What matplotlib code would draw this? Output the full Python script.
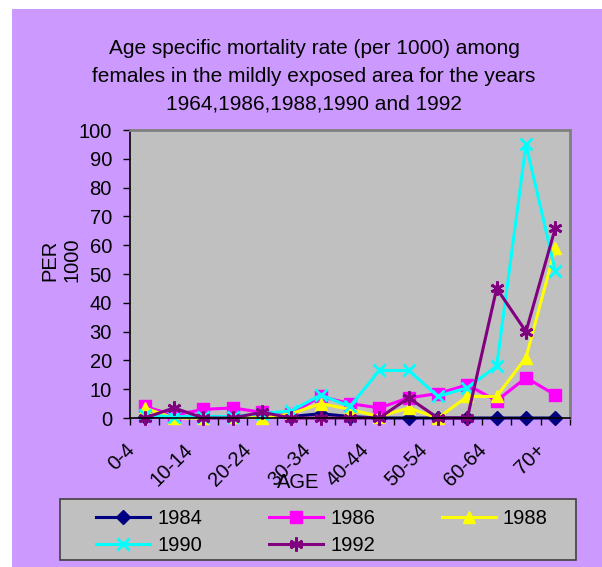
import matplotlib

matplotlib.use("Agg")
import matplotlib.pyplot as plt
import matplotlib.transforms as mtransforms
from matplotlib.patches import Rectangle

plt.rcParams["font.family"] = ["Liberation Sans", "DejaVu Sans"]

AGE_GROUPS = ["0-4", "5-9", "10-14", "15-19", "20-24", "25-29", "30-34", "35-39",
              "40-44", "45-49", "50-54", "55-59", "60-64", "65-69", "70+"]
YEARS = ["1984", "1986", "1988", "1990", "1992"]

rate_1984 = [0.5, 0.5, 0.5, 0.5, 1, 0.5, 1.5, 0.5, 0, 0, 0, 0, 0, 0, 0]
rate_1986 = [4, 1, 3, 3.5, 2, 1.5, 7.5, 5, 3.5, 7, 8.5, 11.5, 6, 14, 8]
rate_1988 = [3.5, 0, 0, 0.5, 0, 1.5, 5, 3, 0.5, 3.5, 0, 7.5, 7.5, 21, 59]
rate_1990 = [1, 0.5, 0.5, 0.5, 1.5, 2.5, 8, 4, 16.5, 16.5, 7.5, 10.5, 18, 95, 51]
rate_1992 = [0, 3.5, 0, 0, 2, 0, 0, 0, 0, 7, 0, 0, 45, 30, 66]

Y_TICKS = list(range(0, 101, 10))

BG = "#CC99FF"
PLOT_BG = "#C0C0C0"
FS = 14.5

W, H = 602, 567
fig = plt.figure(figsize=(W / 100, H / 100), dpi=100)
fig.patch.set_facecolor("white")
fig.patches.append(Rectangle((12 / W, 0), 1, 1 - 9 / H, transform=fig.transFigure,
                             facecolor=BG, edgecolor="none", zorder=-10))

ax = fig.add_axes([130 / W, 1 - 418 / H, 440 / W, 288 / H])
ax.set_facecolor(PLOT_BG)

x = list(range(len(AGE_GROUPS)))
styles = [
    (rate_1984, "#000080", dict(marker="D", markersize=7)),
    (rate_1986, "#FF00FF", dict(marker="s", markersize=8.5)),
    (rate_1988, "#FFFF00", dict(marker="^", markersize=9)),
    (rate_1990, "#00FFFF", dict(marker="x", markersize=8, markeredgewidth=2)),
    (rate_1992, "#800080", dict(marker=(6, 2, 0), markersize=10, markeredgewidth=2)),
]
handles = []
for (vals, color, mk), year in zip(styles, YEARS):
    (ln,) = ax.plot(x, vals, color=color, linewidth=2.2, markerfacecolor=color,
                    markeredgecolor=color, label=year, clip_on=False, **mk)
    handles.append(ln)

ax.set_xlim(-0.5, len(AGE_GROUPS) - 0.5)
ax.set_ylim(0, 100)
ax.set_yticks(Y_TICKS)
ax.tick_params(axis="y", length=5, width=1, pad=8, labelsize=FS, direction="out")

ax.set_xticks([i - 0.5 for i in range(len(AGE_GROUPS) + 1)])
ax.set_xticklabels([])
ax.tick_params(axis="x", which="major", length=5, width=1, direction="out")
ax.set_xticks(x[::2], minor=True)
ax.set_xticklabels(AGE_GROUPS[::2], minor=True, rotation=45, ha="right",
                   va="top", rotation_mode="anchor", fontsize=FS)
ax.tick_params(axis="x", which="minor", length=0, pad=16)
shift = mtransforms.ScaledTranslation(-20 / 100, 0, fig.dpi_scale_trans)
for lbl in ax.get_xticklabels(minor=True):
    lbl.set_transform(lbl.get_transform() + shift)

for side in ("top", "right"):
    ax.spines[side].set_color("#808080")
    ax.spines[side].set_linewidth(2)
for side in ("left", "bottom"):
    ax.spines[side].set_color("black")
    ax.spines[side].set_linewidth(1.2)

fig.text(314 / W, 1 - 76 / H,
         "Age specific mortality rate (per 1000) among\n"
         "females in the mildly exposed area for the years\n"
         "1964,1986,1988,1990 and 1992",
         ha="center", va="center", fontsize=15, linespacing=1.58)
fig.text(61 / W, 1 - 260 / H, "PER\n1000", rotation=90, ha="center", va="center",
         fontsize=FS, multialignment="center")
fig.text(298 / W, 1 - 482 / H, "AGE", ha="center", va="center", fontsize=FS)

# legend box drawn separately so the entries can sit at Excel-like spacing
fig.patches.append(Rectangle((60 / W, 1 - 560 / H), 516 / W, 61 / H,
                             transform=fig.transFigure, facecolor=PLOT_BG,
                             edgecolor="#404040", linewidth=1.2, zorder=1))
order = [0, 3, 1, 4, 2]
leg = fig.legend([handles[i] for i in order], [YEARS[i] for i in order], ncol=3,
                 loc="upper left", bbox_to_anchor=(96 / W, 1 - 509 / H),
                 fontsize=FS, frameon=False, handlelength=2.7, borderpad=0,
                 borderaxespad=0, labelspacing=0.4, handletextpad=0.35,
                 columnspacing=3.3)

fig.savefig("out.png", dpi=100, facecolor=fig.get_facecolor())
